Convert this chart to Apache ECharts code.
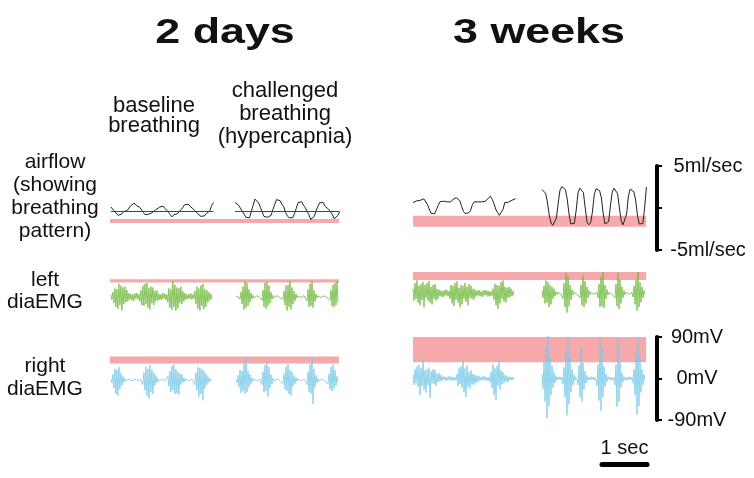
<!DOCTYPE html>
<html><head><meta charset="utf-8">
<script src="https://cdn.jsdelivr.net/npm/echarts@6/dist/echarts.min.js"></script>
<style>html,body{margin:0;padding:0;background:#fff}#c{width:754px;height:478px}</style>
</head><body><div id="c"></div>
<script>
// ---------- data (time in seconds, airflow in ml/sec, EMG in mV) ----------
const panelTitles = ['2 days', '3 weeks'];
const conditionLabels = ['baseline\nbreathing', 'challenged\nbreathing\n(hypercapnia)'];
const rowLabels = ['airflow\n(showing\nbreathing\npattern)', 'left\ndiaEMG', 'right\ndiaEMG'];

const airflowStep = 0.04;   // s between airflow samples
const emgStep = 1 / 45;     // s between EMG samples

// 2 days - airflow
const airflow2dBaseline = [0.54,0.36,0.02,-0.14,-0.46,-0.26,-0.30,-0.02,-0.22,0.10,0.26,0.69,0.85,0.99,0.73,0.64,0.50,0.34,-0.10,-0.38,-0.58,-0.32,-0.34,-0.14,-0.04,0.22,0.32,0.52,0.50,0.64,0.38,0.34,-0.10,-0.38,-0.64,-0.38,-0.28,-0.26,-0.10,0.22,0.50,0.81,0.91,0.87,0.61,0.52,0.26,0.10,-0.22,-0.38,-0.58,-0.38,-0.52,-0.26,-0.22,0.10,0.73,1.07];
const airflow2dChallenged = [1.07,0.93,0.73,0.52,0.02,-0.32,-0.69,-0.73,-0.75,-0.02,0.73,1.47,1.33,1.05,0.50,-0.02,-0.58,-0.67,-0.69,-0.73,-0.46,0.22,0.85,1.41,1.45,1.29,0.85,0.58,-0.10,-0.50,-0.75,-0.61,-0.75,-0.26,0.38,1.05,1.27,1.17,0.73,0.46,0.02,-0.38,-0.93,-0.97,-0.58,0.10,0.61,1.05,1.15,1.05,0.61,0.46,0.26,0.10,-0.34,-0.85,-1.05,-0.50,-0.06];
// 3 weeks - airflow
const airflow3wBaseline = [0.65,0.87,0.85,0.81,0.91,1.05,1.09,0.99,0.44,-0.12,-0.64,-0.73,-0.69,-0.20,0.32,0.75,0.79,0.81,0.85,0.73,0.93,0.73,0.99,0.97,1.23,1.27,0.87,0.20,-0.40,-0.67,-0.81,-0.56,-0.28,0.40,0.73,0.93,0.73,0.93,0.73,0.93,0.79,0.99,1.15,1.41,1.03,0.52,-0.16,-0.56,-0.87,-0.67,-0.16,0.64,0.67,0.69,0.79,0.93,0.97,1.11];
const airflow3wChallenged = [2.20,2.08,1.75,0.71,-0.83,-1.79,-2.06,-1.86,-1.19,0.60,2.14,2.54,2.40,2.18,1.07,-0.71,-1.90,-2.00,-1.81,-0.24,1.79,2.36,2.16,1.83,0,-1.67,-2.00,-1.75,-0.48,1.55,2.30,2.28,2.06,1.19,-0.71,-1.90,-2.00,-1.63,0.24,1.90,2.36,2.16,1.71,0,-1.55,-2.00,-1.86,-0.71,1.43,2.24,2.10,1.94,0.95,-0.83,-1.90,-2.00,-1.86,0,2.50];

// 2 days - EMG
const leftEmg2dBaseline = [4,-6, 10,-14,18,-22,16,-26,28,-18,24,-30,20,-16,22,-12,14,-10,8,-6, 6,-8,5,-9,7,-4,8,-6,5, -10,14,-18,24,-20,28,-16,30,-24,18,-28,22,-14,20,-18,12,-10,14,-8,6,-7, 5,-6,8,-4,6,-7,5, -12,18,-24,16,-28,33,-22,26,-30,20,-25,18,-14,22,-16,12,-10,8,-6,5, -5,6,-4,7,-6,5,-4, 12,-16,22,-26,18,-30,24,-20,28,-27,16,-22,14,-12,10,-8,6,-5];
const leftEmg2dChallenged = [1,-2,2,-1, -6,10,-16,22,-28,33,-24,30,-20,16,-12,8,-5,3, -2,1,-2,2,-1,2,-2,1, -8,14,-22,30,-26,32,-20,24,-14,10,-6,3, -2,2,-1,2,-2,1,-2,2,-1, -6,12,-18,24,-30,26,-22,34,-28,20,-16,12,-9,6,-3, 2,-1,2,-2,1,-2,2,-1,2, -9,16,-22,28,-20,34,-24,14,-10,6,-3, 2,-2,1,-2,2,-1,2,-2,1,-2,2,-1, -8,14,-20,26,-22,30,-18,34,-12];
const rightEmg2dBaseline = [2, -6,12,-18,24,-30,22,-34,28,-20,16,-12,8,-5,3, -2,1,-2,2,-1,2,-2,1,-2,2,-1,2,-2,1,-2,2,-1, -10,16,-22,28,-34,24,-40,32,-26,22,-30,16,-12,10,-6,3, -2,2,-1,2,-2,1,-2,2,-1, 8,-14,20,-26,30,-22,34,-30,24,-28,18,-32,14,-10,12,-6,5,-3, 2,-2,1,-2,2,-1,2,-2,1, -10,16,-22,28,-36,26,-30,24,-44,20,-18,14,-10,8,-5,3, -2,1];
const rightEmg2dChallenged = [1, -6,10,-16,22,-28,20,-24,36,-30,48,-26,20,-16,12,-8,5,-3, 2,-1,2,-2,1,-2,2,-1, -10,18,-26,32,-24,40,-36,28,-18,12,-8,4, -2,2,-1,2,-2,1,-2,2,-1, -8,14,-20,28,-24,34,-30,22,-34,18,-14,10,-8,5,-3, 2,-1,2,-2,1,-2,2,-1,2, -10,18,-26,34,-30,48,-52,24,-16,10,-6,3, -2,2,-1,2,-2,1,-2,2,-1, -8,14,-20,28,-24,34,-18,22,-12,8,-4];
// 3 weeks - EMG
const leftEmg3wBaseline = [10,-16,22,-12,28,-20,16,-26,20,-14,24,-30,18,-10,22,-16,26,-20,14,-24,18,-12,20,-16,10,-12,8,-6, 6,-8,5,-7,8,-5,7,-6,5, -12,18,-22,16,-28,22,-14,26,-20,12,-30,18,-24,16,-12,22,-18,14,-26,20,-10,16,-12,10,-14,8,-7,6, -5,7,-6,4,-8,6,-5,7,-4,6,-7,5,-6,4,-5, 10,-14,20,-26,18,-34,16,-22,24,-12,28,-18,14,-20,12,-10,14,-8,10,-6,5,-4];
const leftEmg3wChallenged = [6,-10,16,-22,28,-20,24,-30,18,-24,14,-12,10,-6,4,-3, 2,-1,2,-2,1, -12,22,-30,44,-42,36,-28,18,-14,8,-4, 2,-2,1,-2,2,-1, -10,18,-26,38,-30,26,-22,14,-10,6,-3, 2,-1,2,-2,1,-2,2, -10,20,-30,36,-28,46,-32,18,-12,8,-4, 2,-2,1,-2,2,-1, -10,20,-28,44,-34,30,-22,14,-10,6,-3, 2,-2,1,-2,2,-1,2, -8,16,-24,30,-38,46,-30,24,-20,14,-10,6,-3];
const rightEmg3wBaseline = [8,-14,20,-10,26,-18,30,-36,22,-16,40,-24,18,-30,20,-14,24,-42,16,-10,20,-12,18,-16,10,-8,12,-6,8,-5,4, -3,4,-5,3,-4,5,-3,4,-5,3,-4,3,-4, 10,-16,22,-12,26,-20,38,-30,22,-40,28,-18,14,-22,18,-12,10,-14,8,-10,6,-8,5,-4, 3,-4,5,-3,4,-5,3,-4,3, -8,14,-20,30,-36,22,-46,28,-16,40,-24,18,-12,14,-10,8,-6,5,-8,4,-3, 3,-4,3,-2];
const rightEmg3wChallenged = [10,-22,36,-50,70,-86,92,-60,44,-36,28,-20,14,-10,6,-4, 3,-2,4,-3,2, -12,24,-40,60,-80,90,-56,44,-30,20,-14,8,-4, 3,-2, -14,28,-40,70,-50,34,-24,16,-10,6,-3, 2,-3,4,-2,3,-4,2,-3, -16,30,-48,86,-70,64,-40,26,-18,10,-6,3, -2,3,-4,2,-3,2, -14,30,-62,84,-50,36,-20,12,-8,4, -3,2,-4,3,-2,4,-3,2, -10,20,-36,56,-78,90,-60,44,-30,20,-14,8,-4];

// segment start times (s) within each panel
const segStart2d = [0.02, 2.78];
const segStartEmg2d = [0.02, 2.8];
const segStart3w = [0, 2.867];

// pink bars: [low, high] in each row's units; extent in seconds
const pinkEnd = [5.09, 5.18];
const pinkAirflow = [[-1.37, -0.89], [-2.23, -0.92]];
const pinkLeftEmg = [[31, 38], [29, 46]];
const pinkRightEmg = [[36, 51], [35, 91]];

// scale bars
const airflowTicks = [-5, 0, 5];
const airflowTickLabels = ['-5ml/sec', '', '5ml/sec'];
const emgTicks = [-90, 0, 90];
const emgTickLabels = ['-90mV', '0mV', '90mV'];
const timeBar = [0, 1];
const timeBarLabel = '1 sec';

// ---------- layout ----------
const PXS = 45;           // px per second
const XMAX = 5.2;
const W = XMAX * PXS;
const MVH = 83 / 180;     // px per mV
const MLH = 8.4;          // px per ml/sec
const gridDefs = [
  {left: 110, top: 211.5 - 3 * MLH, height: 6 * MLH, ymin: -3, ymax: 3},      // 0 airflow 2d
  {left: 413, top: 166, height: 84, ymin: -5, ymax: 5},                       // 1 airflow 3w
  {left: 110, top: 296.7 - 90 * MVH, height: 83, ymin: -90, ymax: 90},        // 2 left 2d
  {left: 413, top: 293.3 - 90 * MVH, height: 83, ymin: -90, ymax: 90},        // 3 left 3w
  {left: 110, top: 380 - 90 * MVH, height: 83, ymin: -90, ymax: 90},          // 4 right 2d
  {left: 413, top: 337, height: 83, ymin: -90, ymax: 90}                      // 5 right 3w
];

const grid = gridDefs.map(g => ({left: g.left, top: g.top, width: W, height: g.height, containLabel: false, outerBoundsMode: 'none'}));
grid.push({left: 602, top: 464, width: 45, height: 10, containLabel: false, outerBoundsMode: 'none'});

const xAxis = gridDefs.map((g, i) => ({type: 'value', gridIndex: i, min: 0, max: XMAX, show: false}));
xAxis.push({type: 'value', gridIndex: 6, position: 'top', min: timeBar[0], max: timeBar[1],
  axisLine: {show: true, onZero: false, lineStyle: {color: '#000', width: 5}},
  axisTick: {show: false}, axisLabel: {show: false}, splitLine: {show: false},
  name: timeBarLabel, nameLocation: 'middle', nameGap: 6,
  nameTextStyle: {fontSize: 20, color: '#111', fontFamily: 'Liberation Sans, Arial, sans-serif'}});

function labelFor(ticks, labels) {
  return v => { const i = ticks.indexOf(Math.round(v)); return i >= 0 ? labels[i] : ''; };
}
const yAxis = gridDefs.map((g, i) => ({type: 'value', gridIndex: i, min: g.ymin, max: g.ymax, show: false}));
yAxis[1] = {type: 'value', gridIndex: 1, min: -5, max: 5, interval: 5, position: 'right', offset: 10,
  axisLine: {show: true, onZero: false, lineStyle: {color: '#000', width: 4}},
  axisTick: {show: true, length: 5, lineStyle: {color: '#000', width: 2}},
  axisLabel: {show: true, margin: 51, align: 'center', fontSize: 20, color: '#111', fontFamily: 'Liberation Sans, Arial, sans-serif',
    showMinLabel: true, showMaxLabel: true, formatter: labelFor(airflowTicks, airflowTickLabels)},
  splitLine: {show: false}};
yAxis[5] = {type: 'value', gridIndex: 5, min: -90, max: 90, interval: 90, position: 'right', offset: 10,
  axisLine: {show: true, onZero: false, lineStyle: {color: '#000', width: 4}},
  axisTick: {show: true, length: 5, lineStyle: {color: '#000', width: 2}},
  axisLabel: {show: true, margin: 40, align: 'center', fontSize: 20, color: '#111', fontFamily: 'Liberation Sans, Arial, sans-serif',
    showMinLabel: true, showMaxLabel: true, formatter: labelFor(emgTicks, emgTickLabels)},
  splitLine: {show: false}};
yAxis.push({type: 'value', gridIndex: 6, show: false, min: 0, max: 1});

// ---------- series ----------
const PINK = 'rgba(244,150,152,0.82)';
const series = [];
function pinkBar(gi, range, end) {
  series.push({type: 'line', xAxisIndex: gi, yAxisIndex: gi, data: [], z: 1, silent: true,
    markArea: {silent: true, itemStyle: {color: PINK}, data: [[{coord: [0, range[0]]}, {coord: [end, range[1]]}]]}});
}
function trace(gi, arr, t0, dt, color, width, zeroLine) {
  const s = {type: 'line', xAxisIndex: gi, yAxisIndex: gi, z: 3, silent: true, clip: false,
    symbol: 'none', animation: false,
    lineStyle: {color: color, width: width}, data: arr.map((v, k) => [t0 + k * dt, v])};
  if (zeroLine) {
    s.markLine = {silent: true, symbol: ['none', 'none'], label: {show: false},
      lineStyle: {color: '#444', width: 1, type: 'solid'},
      data: [[{coord: [t0, 0]}, {coord: [t0 + (arr.length - 1) * dt, 0]}]]};
  }
  series.push(s);
}
pinkBar(0, pinkAirflow[0], pinkEnd[0]);
pinkBar(1, pinkAirflow[1], pinkEnd[1]);
pinkBar(2, pinkLeftEmg[0], pinkEnd[0]);
pinkBar(3, pinkLeftEmg[1], pinkEnd[1]);
pinkBar(4, pinkRightEmg[0], pinkEnd[0]);
pinkBar(5, pinkRightEmg[1], pinkEnd[1]);

const BLACK = '#222', GREEN = 'rgba(110,185,60,0.9)', BLUE = 'rgba(120,200,232,0.9)';
trace(0, airflow2dBaseline, segStart2d[0], airflowStep, BLACK, 1, true);
trace(0, airflow2dChallenged, segStart2d[1], airflowStep, BLACK, 1, true);
trace(1, airflow3wBaseline, segStart3w[0], airflowStep, BLACK, 1, false);
trace(1, airflow3wChallenged, segStart3w[1], airflowStep, BLACK, 1, false);
trace(2, leftEmg2dBaseline, segStartEmg2d[0], emgStep, GREEN, 0.9, false);
trace(2, leftEmg2dChallenged, segStartEmg2d[1], emgStep, GREEN, 0.9, false);
trace(3, leftEmg3wBaseline, segStart3w[0], emgStep, GREEN, 0.9, false);
trace(3, leftEmg3wChallenged, segStart3w[1], emgStep, GREEN, 0.9, false);
trace(4, rightEmg2dBaseline, segStartEmg2d[0], emgStep, BLUE, 0.9, false);
trace(4, rightEmg2dChallenged, segStartEmg2d[1], emgStep, BLUE, 0.9, false);
trace(5, rightEmg3wBaseline, segStart3w[0], emgStep, BLUE, 0.9, false);
trace(5, rightEmg3wChallenged, segStart3w[1], emgStep, BLUE, 0.9, false);

// ---------- text ----------
const FF = '"Liberation Sans", Arial, Helvetica, sans-serif';
function txt(x, y, text, size, lh, weight, sx) {
  return {type: 'text', x: x, y: y, scaleX: sx || 1, silent: true,
    style: {text: text, fontSize: size, fontWeight: weight || 'normal', fontFamily: FF, fill: '#111',
      align: 'center', verticalAlign: 'middle', lineHeight: lh}};
}
const graphic = [
  txt(225, 33, panelTitles[0], 35, 40, 'bold', 1.28),
  txt(539, 33, panelTitles[1], 35, 40, 'bold', 1.28),
  txt(154, 115.6, conditionLabels[0], 22, 20),
  txt(285, 114, conditionLabels[1], 22, 23),
  txt(55, 196.5, rowLabels[0], 21, 23),
  txt(45, 291.5, rowLabels[1], 21, 22),
  txt(45, 377.3, rowLabels[2], 21, 23)
];

const chart = echarts.init(document.getElementById('c'), null, {renderer: 'canvas'});
chart.setOption({animation: false, backgroundColor: '#fff', grid, xAxis, yAxis, series, graphic});
</script></body></html>
